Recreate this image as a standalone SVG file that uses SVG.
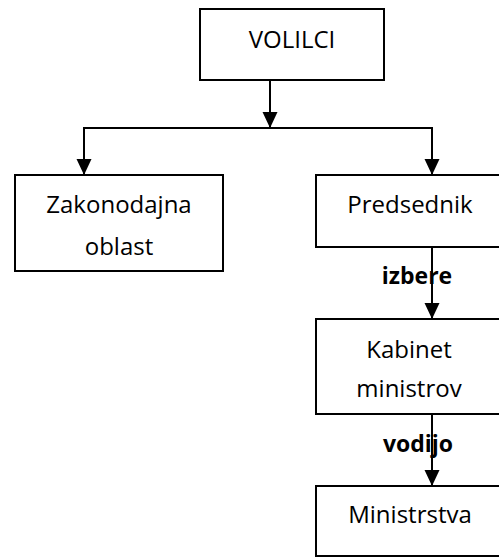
<svg xmlns="http://www.w3.org/2000/svg" width="499" height="557" viewBox="0 0 499 557">
<style>
.box{fill:#fff;stroke:#000;stroke-width:2}
.t{font-family:"Open Sans","Liberation Sans",sans-serif;font-size:24px;fill:#000;text-anchor:middle}
.b{font-family:"Open Sans","Liberation Sans",sans-serif;font-size:23px;font-weight:bold;fill:#000;text-anchor:middle}
.c{stroke:#000;stroke-width:2;fill:none}
</style>
<defs>
<marker id="ah" markerWidth="16" markerHeight="16" refX="16" refY="7.5" orient="auto" markerUnits="userSpaceOnUse">
<path d="M0,0 L16,7.5 L0,15 Z" fill="#000"/>
</marker>
</defs>
<g id="connectors">
<path class="c" d="M270,80 V128" marker-end="url(#ah)"/>
<path class="c" d="M84,128 H432"/>
<path class="c" d="M84,127 V175" marker-end="url(#ah)"/>
<path class="c" d="M432,127 V175" marker-end="url(#ah)"/>
<path class="c" d="M432,247 V319" marker-end="url(#ah)"/>
<path class="c" d="M432,414 V486" marker-end="url(#ah)"/>
</g>
<g id="volilci">
<rect class="box" x="200" y="9" width="184" height="71"/>
<text class="t" x="292" y="48">VOLILCI</text>
</g>
<g id="zakonodajna">
<rect class="box" x="15" y="175" width="208" height="96"/>
<text class="t" x="119" y="213">Zakonodajna</text>
<text class="t" x="119" y="255">oblast</text>
</g>
<g id="predsednik">
<rect class="box" x="316" y="175" width="200" height="72"/>
<text class="t" x="410" y="213">Predsednik</text>
</g>
<g id="label-izbere">
<text class="b" x="417" y="284">izbere</text>
</g>
<g id="kabinet">
<rect class="box" x="316" y="319" width="200" height="95"/>
<text class="t" x="409" y="358">Kabinet</text>
<text class="t" x="409" y="397">ministrov</text>
</g>
<g id="label-vodijo">
<text class="b" x="418" y="452">vodijo</text>
</g>
<g id="ministrstva">
<rect class="box" x="316" y="486" width="200" height="70"/>
<text class="t" x="410" y="523">Ministrstva</text>
</g>
</svg>
